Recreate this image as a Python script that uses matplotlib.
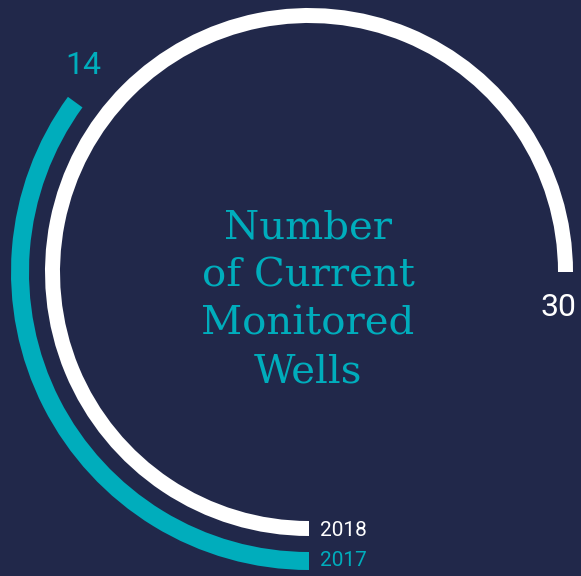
import numpy as np
import matplotlib
matplotlib.use("Agg")
import matplotlib.pyplot as plt

# Data
years = ["2018", "2017"]
values = [30, 14]
max_value = 40
title_lines = ["Number", "of Current", "Monitored", "Wells"]

BG = "#21284a"
TEAL = "#00adbc"
WHITE = "#ffffff"
colors = [WHITE, TEAL]

W, H = 581, 576
fig = plt.figure(figsize=(W / 100, H / 100), dpi=100, facecolor=BG)

# polar axes centred at pixel (309, 272 from top), radius 300 px
cx, cy = 309, H - 272
R = 300
ax = fig.add_axes([(cx - R) / W, (cy - R) / H, 2 * R / W, 2 * R / H], projection="polar")
ax.set_theta_zero_location("S")
ax.set_theta_direction(-1)
ax.set_ylim(0, R)
ax.axis("off")
ax.patch.set_alpha(0)

radii = [256.5, 289]
thick = [15, 18]
for v, r, t, c in zip(values, radii, thick, colors):
    ax.barh(r, v / max_value * 2 * np.pi, left=0, height=t, color=c, align="center")

num_font = dict(family=["Roboto", "DejaVu Sans"], fontweight="normal")

# value labels
fig.text(83 / W, 1 - 65 / H, str(values[1]), color=TEAL, fontsize=23, ha="center", va="center", **num_font)
fig.text(558 / W, 1 - 307 / H, str(values[0]), color=WHITE, fontsize=23, ha="center", va="center", **num_font)

# year labels
fig.text(320 / W, 1 - 530 / H, years[0], color=WHITE, fontsize=15, ha="left", va="center", **num_font)
fig.text(320 / W, 1 - 561 / H, years[1], color=TEAL, fontsize=15, ha="left", va="center", **num_font)

# centre title
for i, line in enumerate(title_lines):
    fig.text(308 / W, 1 - (228 + 48 * i) / H, line, color=TEAL, fontsize=29,
             ha="center", va="center", family=["DejaVu Serif"], fontweight="light")

fig.savefig("out.png", dpi=100, facecolor=BG)
